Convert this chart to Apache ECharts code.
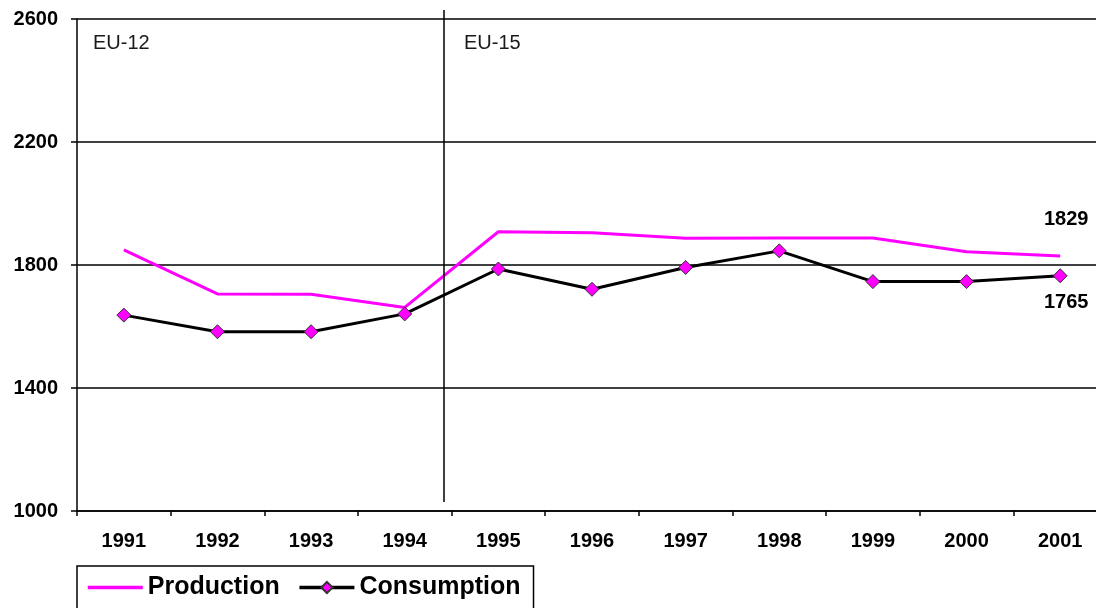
<!DOCTYPE html>
<html>
<head>
<meta charset="utf-8">
<style>
  html, body { margin: 0; padding: 0; background: #fff; }
  #chart { width: 1096px; height: 608px; }
</style>
<script src="https://cdn.jsdelivr.net/npm/echarts@6/dist/echarts.min.js"></script>
</head>
<body>
<div id="chart"></div>
<script>
// Data
const years = ['1991', '1992', '1993', '1994', '1995', '1996', '1997', '1998', '1999', '2000', '2001'];
const production = [1849, 1706, 1705, 1662, 1908, 1905, 1887, 1888, 1888, 1843, 1829];
const consumption = [1637, 1583, 1583, 1641, 1787, 1721, 1792, 1846, 1746, 1746, 1765];
const yTicks = { min: 1000, max: 2600, interval: 400 };
const regions = ['EU-12', 'EU-15'];
const enlargementAt = 3.42; // EU-15 divider, between 1994 and 1995 (category index units)

const palette = {
  ink: '#000000',
  text: '#1a1a1a',
  magenta: '#FF00FF',
};
const FONT = '"Liberation Sans", Arial, sans-serif';

const chart = echarts.init(document.getElementById('chart'), null, { renderer: 'canvas' });
const last = years.length - 1;

chart.setOption({
  animation: false,
  backgroundColor: '#fff',
  textStyle: { fontFamily: FONT, color: palette.ink },
  title: [
    { text: regions[0], left: 93, top: 33, padding: 0,
      textStyle: { fontSize: 20, fontWeight: 'normal', color: palette.text, fontFamily: FONT } },
    { text: regions[1], left: 464, top: 33, padding: 0,
      textStyle: { fontSize: 20, fontWeight: 'normal', color: palette.text, fontFamily: FONT } },
  ],
  grid: [
    // the original plot runs past the right edge of the picture
    { left: 77, top: 19, width: 1030, height: 492, outerBoundsMode: 'none', containLabel: false },
    // helper grid for the divider line (it overshoots the plot a little)
    { left: 77, top: 10, width: 1030, height: 492, show: false, outerBoundsMode: 'none', containLabel: false },
  ],
  legend: {
    data: [
      { name: 'Production', itemStyle: { opacity: 0 } },
      { name: 'Consumption' },
    ],
    left: 77, top: 566,
    padding: [9, 13, 24, 9],
    itemWidth: 55, itemHeight: 14, itemGap: 18,
    borderColor: palette.ink, borderWidth: 1.5,
    backgroundColor: '#fff',
    lineStyle: { width: 3.5 },
    textStyle: { fontSize: 25, fontWeight: 'bold', color: palette.ink, fontFamily: FONT },
  },
  xAxis: [
    {
      type: 'category', data: years, gridIndex: 0,
      axisLine: { lineStyle: { color: palette.ink, width: 1.5 } },
      axisTick: { show: true, length: 5, lineStyle: { color: palette.ink, width: 1.5 } },
      axisLabel: { fontSize: 20, fontWeight: 'bold', color: palette.ink, margin: 20, fontFamily: FONT },
      splitLine: { show: false },
    },
    { type: 'value', gridIndex: 1, min: -0.5, max: 10.5, show: false },
  ],
  yAxis: [
    {
      type: 'value', gridIndex: 0,
      min: yTicks.min, max: yTicks.max, interval: yTicks.interval,
      axisLine: { show: true, lineStyle: { color: palette.ink, width: 1.5 } },
      axisTick: { show: true, length: 6, lineStyle: { color: palette.ink, width: 1.5 } },
      axisLabel: { fontSize: 20, fontWeight: 'bold', color: palette.ink, margin: 19, fontFamily: FONT,
                   formatter: (v) => String(v) },
      splitLine: { show: true, lineStyle: { color: palette.ink, width: 1.5 } },
    },
    { type: 'value', gridIndex: 1, min: 0, max: 1, show: false },
  ],
  series: [
    {
      name: 'Production', type: 'line', data: production,
      symbol: 'none', clip: false,
      lineStyle: { color: palette.magenta, width: 3 },
      itemStyle: { color: palette.magenta },
      markPoint: {
        symbol: 'circle', symbolSize: 0, silent: true,
        label: { show: true, position: 'top', distance: 27, offset: [6, 0],
                 fontSize: 20, fontWeight: 'bold', color: palette.ink, fontFamily: FONT },
        data: [{ coord: [last, production[last]], value: production[last] }],
      },
    },
    {
      name: 'Consumption', type: 'line', data: consumption,
      symbol: 'diamond', symbolSize: 14, clip: false,
      lineStyle: { color: palette.ink, width: 3 },
      itemStyle: { color: palette.magenta, borderColor: '#333', borderWidth: 1 },
      markPoint: {
        symbol: 'circle', symbolSize: 0, silent: true,
        label: { show: true, position: 'bottom', distance: 17, offset: [6, 0],
                 fontSize: 20, fontWeight: 'bold', color: palette.ink, fontFamily: FONT },
        data: [{ coord: [last, consumption[last]], value: consumption[last] }],
      },
    },
    {
      name: 'divider', type: 'line', xAxisIndex: 1, yAxisIndex: 1, data: [],
      markLine: {
        silent: true, symbol: 'none',
        label: { show: false },
        lineStyle: { color: palette.ink, width: 1.5, type: 'solid' },
        data: [[{ coord: [enlargementAt, 1] }, { coord: [enlargementAt, 0] }]],
      },
    },
  ],
});
</script>
</body>
</html>
